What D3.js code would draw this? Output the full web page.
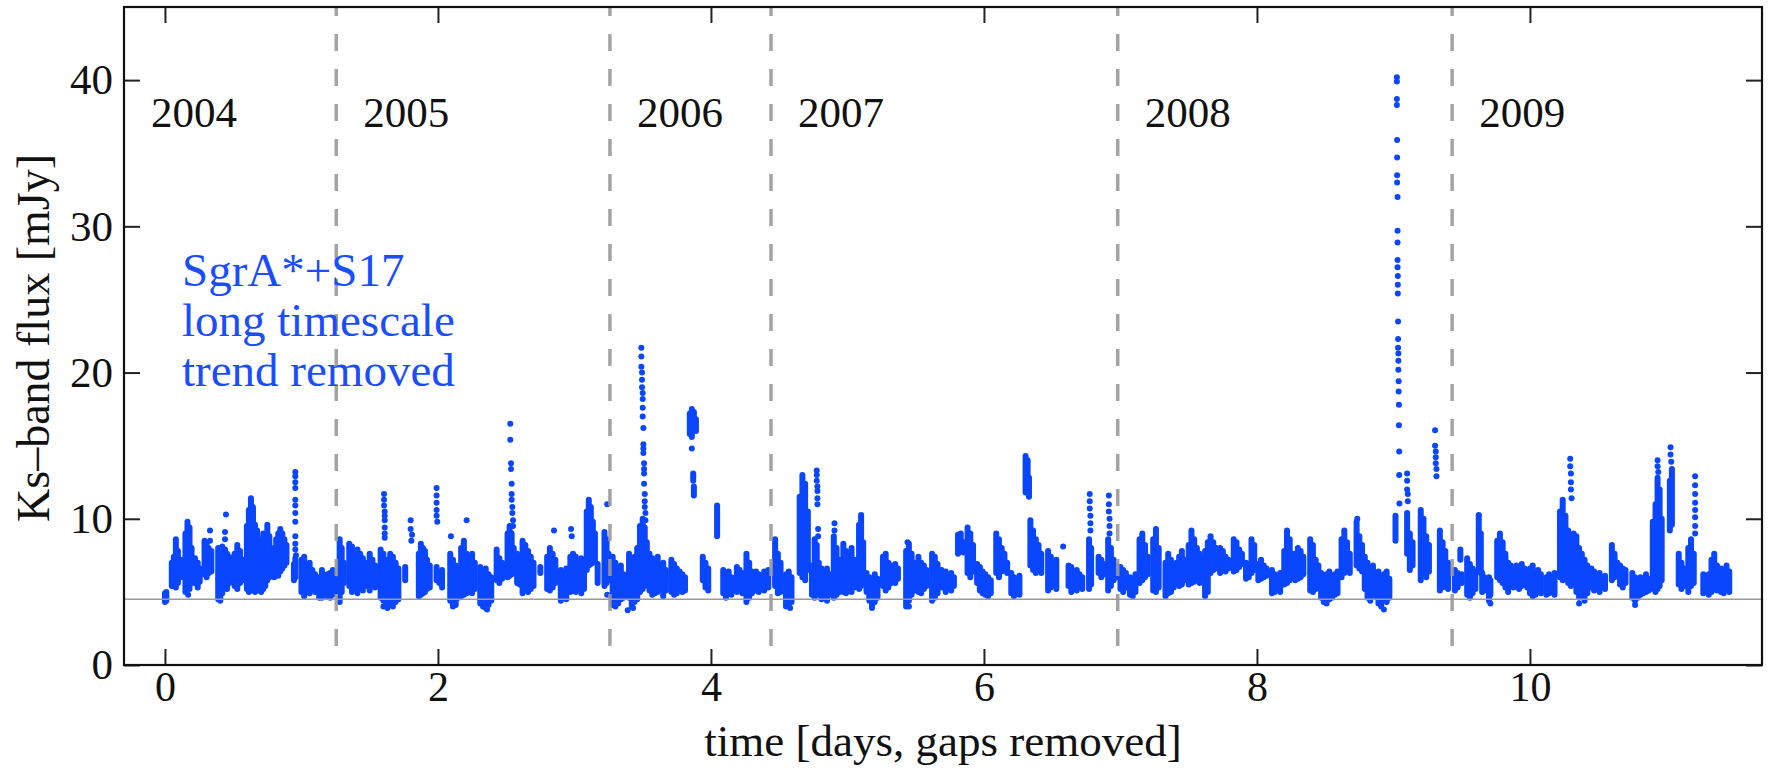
<!DOCTYPE html>
<html>
<head>
<meta charset="utf-8">
<script src="https://d3js.org/d3.v7.min.js"></script>
<style>
  body { margin: 0; background: #fff; }
  text { font-family: "Liberation Serif", "DejaVu Serif", serif; }
</style>
</head>
<body>
<div id="chart"></div>
<script>
// year labels and the dashed boundaries between them (days, gaps removed)
var years = ["2004", "2005", "2006", "2007", "2008", "2009"];
var yearBreaks = [1.255, 3.26, 4.44, 6.98, 9.43];
var baselineFlux = 4.5;
var noteLines = ["SgrA*+S17", "long timescale", "trend removed"];
var xTicks = [0, 2, 4, 6, 8, 10];
var yTicks = [0, 10, 20, 30, 40];

// dense parts of each night: [time, lowest flux, highest flux]
var nights2004 = [
  [0.00,4.3,4.9],[0.01,4.4,5.0],[0.05,5.4,7.0],[0.065,5.6,7.4],[0.08,5.3,8.6],[0.095,5.6,7.8],[0.115,6.0,7.2],
  [0.15,5.0,9.0],[0.165,5.4,9.8],[0.18,5.2,9.4],[0.195,5.6,8.0],[0.22,5.6,7.3],[0.24,5.3,7.0],[0.255,5.7,6.6],
  [0.29,6.2,8.5],[0.305,6.0,8.3],[0.32,6.3,8.0],[0.34,6.4,7.8],[0.39,4.5,8.0],[0.405,4.4,7.6],[0.42,4.9,8.1],
  [0.44,5.5,7.9],[0.455,5.2,7.6],[0.47,5.6,7.4],[0.51,5.4,7.6],[0.53,5.2,8.2],[0.55,5.6,7.8],[0.57,5.8,7.2],
  [0.60,5.2,9.5],[0.615,5.0,10.6],[0.63,5.1,11.4],[0.645,5.3,10.8],[0.66,5.0,9.6],[0.675,5.1,9.2],[0.69,5.3,8.6],
  [0.705,5.0,8.3],[0.72,5.2,9.0],[0.735,5.4,8.1],[0.75,5.8,9.6],[0.765,6.0,8.8],[0.78,6.2,7.6],[0.80,6.0,8.0],
  [0.815,6.3,8.6],[0.83,6.1,9.0],[0.845,6.4,9.3],[0.86,6.6,9.0],[0.875,6.8,8.6],[0.89,7.0,8.2],[0.945,5.8,6.9],
  [0.955,6.0,7.3],[1.00,5.0,7.2],[1.02,4.7,7.4],[1.04,5.1,6.8],[1.06,4.9,7.0],[1.08,5.2,6.5],[1.10,5.0,6.2],
  [1.13,4.6,6.0],[1.15,4.6,6.5],[1.17,4.8,5.8],[1.19,4.7,6.2],[1.21,4.6,6.3],[1.23,4.8,6.5],[1.245,5.0,5.9]
];
var nights2005 = [
  [1.28,4.3,8.6],[1.295,5.0,8.0],[1.31,5.6,7.0],[1.35,5.4,8.3],[1.37,5.0,8.1],[1.39,5.2,7.8],[1.41,4.9,7.9],
  [1.43,5.3,7.6],[1.45,5.1,7.3],[1.47,5.4,7.0],[1.50,5.1,7.6],[1.52,5.5,7.2],[1.54,5.3,6.8],[1.58,4.6,7.9],
  [1.60,4.4,7.6],[1.62,4.0,7.2],[1.65,4.2,7.6],[1.67,4.0,7.4],[1.69,4.3,7.0],[1.71,4.5,6.6],[1.76,5.8,6.7],
  [1.86,4.7,7.6],[1.875,4.8,8.3],[1.89,4.9,8.0],[1.905,5.0,7.8],[1.92,5.2,7.2],[1.94,5.3,6.8],[1.99,5.8,6.7],
  [2.01,5.6,6.3],[2.03,5.3,6.5],[2.09,4.4,7.6],[2.11,4.0,7.2],[2.13,4.1,6.8],[2.15,4.6,6.5],[2.17,4.7,8.0],
  [2.19,4.8,8.5],[2.21,4.9,7.6],[2.23,5.0,7.2],[2.25,4.9,7.6],[2.27,5.2,7.0],[2.31,4.2,6.7],[2.33,4.0,6.4],
  [2.35,3.9,6.6],[2.37,4.1,6.2],[2.39,4.4,6.0],[2.43,5.8,7.9],[2.45,5.6,7.3],[2.47,5.9,7.0],[2.51,6.0,9.0],
  [2.525,6.1,9.5],[2.54,6.2,9.0],[2.555,6.3,8.0],[2.58,5.6,7.6],[2.60,5.5,7.2],[2.62,4.9,8.5],[2.64,5.1,8.2],
  [2.66,5.0,7.8],[2.68,5.2,7.4],[2.70,5.4,7.0],[2.75,6.3,6.7],[2.80,5.2,7.4],[2.82,5.1,8.0],[2.84,5.3,7.6],
  [2.86,5.6,7.2],[2.90,4.4,6.5],[2.92,4.6,6.3],[2.94,4.5,6.6],[2.97,5.0,7.4],[2.99,5.1,7.6],[3.01,5.0,7.4],
  [3.03,5.2,7.0],[3.05,4.9,7.3],[3.07,5.2,6.8],[3.09,6.5,10.5],[3.105,6.8,11.3],[3.12,6.9,10.8],[3.135,7.0,9.8],
  [3.15,7.2,9.0],[3.17,5.6,6.9],[3.22,5.4,9.1],[3.235,5.6,8.6],[3.25,5.8,7.6]
];
var nights2006 = [
  [3.28,4.1,7.4],[3.30,4.0,7.0],[3.32,4.2,6.4],[3.34,4.5,6.8],[3.36,4.6,6.2],[3.38,4.8,6.0],[3.40,4.6,7.6],
  [3.42,4.0,7.0],[3.44,4.3,7.4],[3.46,4.5,8.0],[3.48,5.0,9.5],[3.50,5.2,10.0],[3.515,5.4,9.4],[3.53,5.6,8.4],
  [3.55,5.1,7.6],[3.57,4.8,7.3],[3.59,4.9,7.0],[3.61,5.0,7.4],[3.63,5.2,6.8],[3.65,4.7,7.0],[3.67,5.1,6.5],
  [3.71,5.0,7.2],[3.73,4.8,6.9],[3.75,4.9,6.6],[3.77,5.2,6.4],[3.79,5.0,6.2],[3.81,5.1,6.0],
  [3.845,15.8,17.2],[3.86,15.6,17.5],[3.875,16.2,17.3],[3.89,16.0,16.8],[3.87,12.6,13.1],[3.875,11.6,12.2],
  [3.94,5.8,7.4],[3.96,5.3,7.0],[3.98,5.1,6.6],[4.045,8.8,10.9],[4.09,4.9,6.5],[4.11,4.6,6.2],[4.13,5.0,6.4],
  [4.15,4.8,6.0],[4.19,5.0,6.7],[4.21,5.1,6.5],[4.23,4.9,6.3],[4.26,4.3,7.6],[4.28,4.6,7.0],[4.30,4.9,6.4],
  [4.33,5.1,6.4],[4.35,5.0,6.2],[4.37,5.2,6.0],[4.39,5.1,6.4],[4.42,5.3,6.5]
];
var nights2007 = [
  [4.47,5.4,8.6],[4.49,4.9,7.6],[4.51,5.0,7.0],[4.55,4.0,6.2],[4.57,4.1,6.4],[4.59,4.3,6.0],[4.65,6.3,11.5],
  [4.67,6.0,13.0],[4.69,5.8,12.4],[4.71,6.5,10.5],[4.74,4.8,6.8],[4.76,4.6,8.6],[4.775,4.9,8.2],[4.79,4.8,7.0],
  [4.81,4.5,6.6],[4.83,4.7,6.3],[4.85,4.4,6.6],[4.87,4.8,6.2],[4.90,4.6,8.8],[4.92,4.8,8.0],[4.94,5.0,7.2],
  [4.97,5.0,8.3],[4.99,4.9,7.8],[5.01,5.2,7.4],[5.03,5.0,8.0],[5.05,5.3,7.2],[5.07,5.6,6.8],[5.085,5.2,9.6],
  [5.10,5.4,10.2],[5.115,5.6,8.4],[5.14,5.0,6.3],[5.16,4.4,6.0],[5.18,4.0,5.8],[5.20,4.3,6.2],[5.22,4.6,5.9],
  [5.26,5.4,7.4],[5.28,5.1,7.6],[5.30,5.3,7.0],[5.32,5.6,6.8],[5.35,5.6,6.9],[5.37,5.9,6.6],[5.43,4.0,7.8],
  [5.45,4.4,8.3],[5.47,4.8,7.6],[5.49,5.1,7.0],[5.52,5.0,7.4],[5.54,4.9,7.0],[5.56,5.2,6.8],[5.58,5.4,6.5],
  [5.62,4.4,7.6],[5.64,4.6,7.4],[5.66,4.9,6.9],[5.69,5.3,6.5],[5.72,5.0,6.4],[5.74,5.3,6.1],[5.76,5.1,6.3],
  [5.78,5.4,6.0],[5.81,7.6,8.9],[5.83,7.8,9.0],[5.85,7.7,8.4],[5.88,6.3,9.4],[5.90,6.0,9.0],[5.92,6.4,8.2],
  [5.95,5.6,6.9],[5.97,5.1,6.7],[5.99,4.9,6.4],[6.01,4.8,6.2],[6.03,4.7,6.0],[6.05,4.9,5.8],[6.09,6.3,9.0],
  [6.11,6.0,8.6],[6.13,6.4,8.0],[6.15,6.6,7.6],[6.17,6.3,7.0],[6.20,4.9,6.3],[6.22,4.7,6.0],[6.24,5.0,5.8],
  [6.26,4.8,6.1],[6.305,11.8,14.3],[6.32,12.0,14.0],[6.33,11.5,12.8],[6.34,6.8,9.9],[6.36,6.5,9.2],[6.38,6.3,8.6],
  [6.40,6.5,8.2],[6.42,6.3,7.6],[6.47,5.1,7.8],[6.49,5.3,7.4],[6.51,5.6,7.0],[6.53,5.2,7.2],[6.62,5.4,6.8],
  [6.64,5.0,6.7],[6.66,5.3,6.4],[6.68,5.1,6.5],[6.70,5.4,6.2],[6.72,5.2,6.0],[6.77,5.2,8.6],[6.785,5.5,8.0],
  [6.84,6.3,7.4],[6.86,6.0,7.2],[6.88,6.2,6.9],[6.91,5.1,8.6],[6.93,5.4,8.0],[6.95,5.8,7.2],[6.97,6.0,6.8]
];
var nights2008 = [
  [7.00,5.2,6.7],[7.02,5.0,6.5],[7.04,5.3,6.3],[7.07,4.8,6.0],[7.09,4.7,5.8],[7.11,5.0,6.2],[7.14,5.6,8.6],
  [7.16,5.8,9.0],[7.18,6.0,8.2],[7.20,6.2,7.4],[7.24,5.1,8.6],[7.26,5.0,9.3],[7.28,5.3,8.0],[7.33,4.7,7.0],
  [7.35,4.9,7.6],[7.37,5.0,7.2],[7.39,5.3,6.8],[7.41,5.6,7.0],[7.43,5.4,7.4],[7.45,5.5,7.8],[7.47,5.8,7.2],
  [7.50,5.5,8.2],[7.52,5.6,9.2],[7.54,5.7,8.6],[7.56,5.9,8.0],[7.58,5.6,7.6],[7.60,6.0,7.2],[7.62,4.7,7.8],
  [7.64,5.0,8.4],[7.66,6.3,8.8],[7.68,6.5,8.4],[7.70,6.6,8.0],[7.73,6.3,8.0],[7.75,6.5,7.8],[7.77,6.4,7.4],
  [7.79,6.6,7.2],[7.83,6.4,8.6],[7.85,6.5,8.4],[7.87,6.7,7.9],[7.89,6.9,7.6],[7.92,5.9,7.0],[7.94,6.0,6.8],
  [7.96,6.3,8.6],[7.98,6.5,8.2],[8.01,5.8,6.9],[8.03,5.9,7.2],[8.05,6.0,6.8],[8.07,6.1,6.6],[8.11,4.9,6.5],
  [8.13,5.0,6.2],[8.15,5.2,6.0],[8.17,5.0,6.3],[8.20,5.5,7.8],[8.22,5.6,9.2],[8.24,5.8,8.6],[8.26,6.0,7.6],
  [8.28,5.8,7.6],[8.30,5.9,8.0],[8.32,6.0,7.8],[8.34,6.2,7.4],[8.39,5.1,8.6],[8.41,5.0,8.2],[8.43,5.2,7.2],
  [8.45,5.3,6.8],[8.47,4.6,6.3],[8.49,4.3,6.0],[8.51,4.2,6.2],[8.53,4.5,6.4],[8.55,4.6,6.0],[8.57,4.8,6.2],
  [8.59,4.9,6.4],[8.62,6.0,8.6],[8.64,6.3,9.2],[8.66,6.5,8.4],[8.68,6.3,7.6],[8.73,6.8,9.8],[8.75,6.6,8.8],
  [8.77,6.4,8.2],[8.79,5.2,7.4],[8.81,4.6,7.0],[8.83,4.4,6.6],[8.85,4.9,6.8],[8.87,4.7,6.2],[8.89,4.2,6.4],
  [8.91,4.0,6.0],[8.93,4.4,6.2],[8.95,4.3,6.4],[8.97,4.6,5.9],[9.015,8.5,10.2],[9.10,7.6,10.4],[9.12,6.5,9.0],
  [9.14,6.8,8.4],[9.20,5.8,10.6],[9.22,6.2,10.0],[9.24,6.0,8.8],[9.26,6.4,8.2],[9.34,5.1,9.2],[9.36,5.3,8.4],
  [9.38,5.6,7.8],[9.40,5.2,7.0]
];
var nights2009 = [
  [9.45,5.1,6.5],[9.47,5.3,6.3],[9.49,7.2,7.9],[9.50,5.6,6.2],[9.54,4.8,7.3],[9.56,4.6,6.9],[9.58,4.9,6.6],
  [9.60,5.2,6.4],[9.625,6.5,10.2],[9.64,6.3,9.0],[9.65,5.0,6.3],[9.665,5.1,6.0],[9.70,4.4,6.0],[9.71,4.8,5.8],
  [9.76,6.0,8.5],[9.78,5.8,9.0],[9.80,5.6,8.4],[9.82,5.3,7.6],[9.84,5.0,7.0],[9.86,5.4,6.8],[9.88,5.3,6.6],
  [9.90,5.6,6.8],[9.92,5.2,6.5],[9.94,5.4,6.9],[9.96,5.5,6.6],[9.98,5.3,6.2],[10.00,4.9,6.6],[10.02,4.7,6.8],
  [10.04,4.8,6.4],[10.06,5.0,6.5],[10.08,4.9,6.2],[10.12,4.8,6.0],[10.14,4.9,6.2],[10.16,5.0,6.0],[10.18,4.8,6.3],
  [10.22,6.0,10.5],[10.24,5.8,11.3],[10.26,6.2,10.2],[10.28,5.6,9.2],[10.30,5.4,8.6],[10.32,5.7,9.0],[10.34,5.0,8.8],
  [10.36,4.6,8.0],[10.38,4.8,7.6],[10.40,4.4,7.2],[10.42,4.9,6.8],[10.45,5.3,6.6],[10.47,5.1,6.4],[10.49,5.2,6.2],
  [10.51,5.0,6.3],[10.53,5.3,6.0],[10.55,5.2,6.1],[10.60,5.8,8.2],[10.62,6.0,7.6],[10.64,6.2,7.0],[10.66,5.5,6.8],
  [10.68,5.3,6.6],[10.70,5.6,6.5],[10.75,4.6,6.3],[10.77,4.4,6.0],[10.79,4.6,5.8],[10.81,4.8,6.0],[10.83,4.9,5.9],
  [10.85,5.0,6.2],[10.87,5.1,5.9],[10.90,5.2,9.8],[10.92,5.0,11.0],[10.935,5.2,12.8],[10.95,5.4,12.0],[10.965,5.8,10.0],
  [11.025,9.2,12.6],[11.04,9.6,13.4],[11.09,5.5,7.6],[11.11,5.2,7.0],[11.13,5.4,6.6],[11.16,5.0,8.0],[11.18,5.4,8.6],
  [11.20,5.6,7.6],[11.27,4.9,6.2],[11.29,5.0,6.0],[11.31,4.8,6.2],[11.33,5.0,7.2],[11.35,5.2,7.6],[11.37,5.1,6.8],
  [11.40,5.0,6.6],[11.42,4.9,6.3],[11.44,5.2,6.8],[11.46,5.0,6.4]
];

// single, well separated samples (flare peaks and stragglers): [time, flux]
var dots2004 = [
  [0.33,9.2],[0.33,8.5],[0.44,9.1],[0.447,10.3],[0.44,8.6],[0.955,13.2],[0.955,12.9],[0.955,12.5],[0.955,12.1],
  [0.955,11.3],[0.955,10.9],[0.955,10.4],[0.955,9.8],[0.955,8.8],[0.955,8.3],[0.955,7.9],[0.96,7.5],[0.17,4.8]
];
var dots2005 = [
  [1.605,11.7],[1.605,11.3],[1.605,10.9],[1.61,10.5],[1.61,10.2],[1.61,9.9],[1.61,9.4],[1.61,9.0],[1.61,8.7],
  [1.80,9.9],[1.80,9.3],[1.805,8.5],[1.81,8.9],[1.99,12.1],[1.99,11.6],[1.99,11.1],[1.99,10.6],[1.99,10.2],
  [1.995,9.8],[2.095,8.8],[2.21,9.9],[1.63,3.9],[1.60,4.0],[2.53,16.5],[2.53,15.4],[2.535,13.8],[2.535,13.4],
  [2.54,12.4],[2.54,11.7],[2.54,11.3],[2.545,10.8],[2.545,10.4],[2.55,9.9],[2.55,9.5],[2.85,9.2],[2.975,9.3],
  [2.98,8.8],[3.24,11.0],[3.24,4.8],[2.36,3.8]
];
var dots2006 = [
  [3.49,21.7],[3.49,21.1],[3.49,20.4],[3.495,20.0],[3.495,19.5],[3.495,19.0],[3.5,18.6],[3.5,18.2],[3.5,17.6],
  [3.5,17.0],[3.505,16.2],[3.505,15.1],[3.505,14.8],[3.505,14.5],[3.51,13.8],[3.51,13.4],[3.51,13.1],[3.51,12.4],
  [3.515,11.7],[3.515,11.2],[3.515,10.8],[3.52,10.4],[3.52,9.9],[3.86,14.8],[3.39,3.75],[3.43,3.9]
];
var dots2007 = [
  [4.775,13.3],[4.775,13.0],[4.775,12.6],[4.78,12.2],[4.78,11.9],[4.78,11.4],[4.78,11.0],[4.785,9.3],[4.785,8.8],
  [4.905,9.7],[4.905,9.2],[5.10,10.25],[6.775,11.7],[6.775,11.2],[6.775,10.7],[6.78,10.2],[6.78,9.7],[6.78,9.2],
  [6.915,11.6],[6.915,11.0],[6.915,10.5],[6.92,10.0],[6.92,9.5],[6.92,9.0],[5.44,8.4],[6.58,8.1],[5.18,3.9],
  [5.45,4.0],[4.58,3.9]
];
var dots2008 = [
  [9.025,40.2],[9.025,39.9],[9.025,38.7],[9.025,38.3],[9.027,35.9],[9.027,34.7],[9.027,33.5],[9.027,33.0],
  [9.03,32.0],[9.03,29.7],[9.03,28.9],[9.03,27.7],[9.03,27.2],[9.032,26.6],[9.032,26.0],[9.032,25.4],[9.034,23.5],
  [9.034,22.3],[9.034,21.7],[9.036,21.3],[9.036,20.8],[9.036,20.2],[9.038,19.4],[9.038,18.7],[9.04,17.8],
  [9.04,16.4],[9.042,14.6],[9.042,13.0],[9.044,11.05],[9.10,13.1],[9.10,12.6],[9.10,12.0],[9.105,11.7],[9.105,11.2],
  [9.305,16.05],[9.305,15.0],[9.31,14.6],[9.31,14.2],[9.31,13.8],[9.315,13.4],[9.315,12.9],[8.735,10.0],[8.93,3.8]
];
var dots2009 = [
  [9.625,10.25],[9.71,4.2],[10.295,14.1],[10.295,13.6],[10.3,13.1],[10.3,12.5],[10.3,12.0],[10.305,11.4],
  [10.935,14.0],[10.935,13.6],[10.94,13.2],[11.03,14.9],[11.03,14.4],[11.035,13.9],[11.21,12.9],[11.21,12.3],
  [11.21,11.7],[11.21,11.1],[11.21,10.6],[11.21,10.1],[11.21,9.5],[11.21,9.0],[10.77,4.1],[10.36,4.2]
];

var allNights = [].concat(nights2004, nights2005, nights2006, nights2007, nights2008, nights2009);
var allDots = [].concat(dots2004, dots2005, dots2006, dots2007, dots2008, dots2009);

var svgWidth = 1773;
var svgHeight = 769;
var margin = { top: 7, right: 11, bottom: 104, left: 124 };
var width = svgWidth - margin.left - margin.right;
var height = svgHeight - margin.top - margin.bottom;

var blue = "#0a46ff";
var grey = "#9a9a9a";

var svg = d3.select("#chart")
  .append("svg")
  .attr("width", svgWidth)
  .attr("height", svgHeight);

var chartGroup = svg.append("g")
  .attr("transform", `translate(${margin.left}, ${margin.top})`);

var xScale = d3.scaleLinear().domain([-0.3, 11.7]).range([0, width]);
var yScale = d3.scaleLinear().domain([0, 45]).range([height, 0]);

// data: dense stretches as thick round-capped strokes, sparse samples as dots
chartGroup.append("g").selectAll("line")
  .data(allNights)
  .enter()
  .append("line")
  .attr("x1", d => xScale(d[0]))
  .attr("x2", d => xScale(d[0]))
  .attr("y1", d => yScale(d[1]))
  .attr("y2", d => yScale(d[2]))
  .attr("stroke", blue)
  .attr("stroke-width", 6)
  .attr("stroke-linecap", "round");

chartGroup.append("g").selectAll("circle")
  .data(allDots)
  .enter()
  .append("circle")
  .attr("cx", d => xScale(d[0]))
  .attr("cy", d => yScale(d[1]))
  .attr("r", 3)
  .attr("fill", blue);

// quiescent level
chartGroup.append("line")
  .attr("x1", 0).attr("x2", width)
  .attr("y1", yScale(baselineFlux)).attr("y2", yScale(baselineFlux))
  .attr("stroke", grey)
  .attr("stroke-width", 1.5);

// year boundaries
chartGroup.append("g").selectAll("line")
  .data(yearBreaks)
  .enter()
  .append("line")
  .attr("x1", d => xScale(d)).attr("x2", d => xScale(d))
  .attr("y1", 0).attr("y2", height)
  .attr("stroke", grey)
  .attr("stroke-width", 3.5)
  .attr("stroke-dasharray", "17,18")
  .attr("stroke-dashoffset", 8)
  .attr("opacity", 0.9);

// year labels, each just right of the boundary where the year starts
var labelStarts = [xScale.domain()[0]].concat(yearBreaks);
chartGroup.append("g").selectAll("text")
  .data(years)
  .enter()
  .append("text")
  .attr("x", (d, i) => xScale(labelStarts[i]) + 27)
  .attr("y", 120)
  .attr("font-size", 43)
  .attr("fill", "#111")
  .text(d => d);

// note in blue
chartGroup.append("g").selectAll("text")
  .data(noteLines)
  .enter()
  .append("text")
  .attr("x", 58)
  .attr("y", (d, i) => 279 + i * 50)
  .attr("font-size", 47)
  .attr("fill", "#1a4dff")
  .text(d => d);

// axes, ticks inside on all four sides
var xAxis = d3.axisBottom(xScale).tickValues(xTicks).tickSizeInner(-16).tickSizeOuter(0).tickPadding(6);
var yAxis = d3.axisLeft(yScale).tickValues(yTicks).tickSizeInner(-16).tickSizeOuter(0).tickPadding(11);

var xg = chartGroup.append("g")
  .attr("transform", `translate(0, ${height})`)
  .call(xAxis);
var yg = chartGroup.append("g").call(yAxis);

chartGroup.append("g")
  .call(d3.axisTop(xScale).tickValues(xTicks).tickSizeInner(-16).tickSizeOuter(0).tickFormat(""));
chartGroup.append("g")
  .attr("transform", `translate(${width}, 0)`)
  .call(d3.axisRight(yScale).tickValues(yTicks).tickSizeInner(-16).tickSizeOuter(0).tickFormat(""));

chartGroup.selectAll(".domain").remove();
chartGroup.selectAll(".tick line").attr("stroke", "#222").attr("stroke-width", 2);
xg.selectAll("text").attr("font-size", 42).attr("fill", "#111")
  .attr("font-family", "Liberation Serif, serif");
yg.selectAll("text").attr("font-size", 43).attr("fill", "#111")
  .attr("font-family", "Liberation Serif, serif");

// frame
chartGroup.append("rect")
  .attr("width", width)
  .attr("height", height)
  .attr("fill", "none")
  .attr("stroke", "#111")
  .attr("stroke-width", 2.2);

// axis titles
svg.append("text")
  .attr("x", margin.left + width / 2)
  .attr("y", 756)
  .attr("text-anchor", "middle")
  .attr("font-size", 45)
  .attr("fill", "#111")
  .text("time [days, gaps removed]");

svg.append("text")
  .attr("transform", `translate(49, 338) rotate(-90)`)
  .attr("text-anchor", "middle")
  .attr("font-size", 46)
  .attr("fill", "#111")
  .text("Ks\u2013band flux [mJy]");
</script>
</body>
</html>
